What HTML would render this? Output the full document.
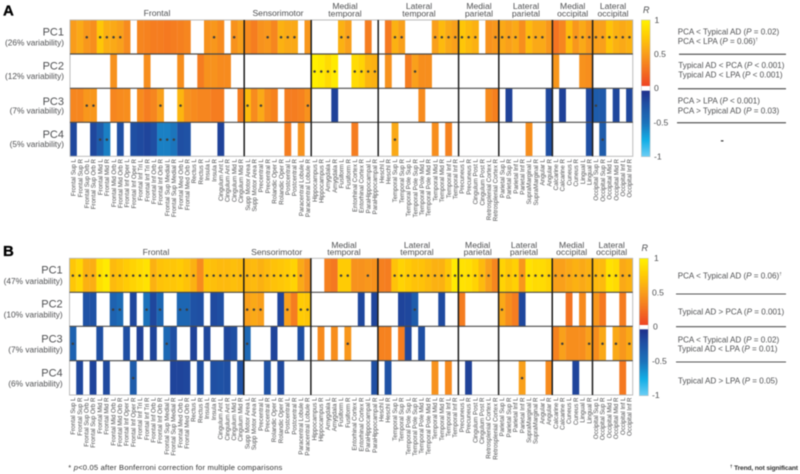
<!DOCTYPE html>
<html lang="en">
<head>
<meta charset="utf-8">
<title>PC correlation heatmaps</title>
<style>
html,body{margin:0;padding:0;background:#fff;width:800px;height:474px;overflow:hidden}
svg{display:block;filter:blur(.4px)}
text{font-family:"Liberation Sans",sans-serif;fill:#4f5052}
.g{font-size:8.6px;text-anchor:middle}
.pc{font-size:11px;text-anchor:end}
.vr{font-size:8.3px;text-anchor:end}
.tk{font-size:8.6px}
.an{font-size:8.1px}
</style>
</head>
<body>
<svg id="chart" width="800" height="474" viewBox="0 0 800 474" xmlns="http://www.w3.org/2000/svg">
<defs>
<linearGradient id="posGrad" x1="0" y1="0" x2="0" y2="1">
<stop offset="0" stop-color="#fff200"/><stop offset=".25" stop-color="#ffcb05"/><stop offset=".5" stop-color="#f9a01b"/><stop offset=".75" stop-color="#f47421"/><stop offset="1" stop-color="#ef4423"/>
</linearGradient>
<linearGradient id="negGrad" x1="0" y1="0" x2="0" y2="1">
<stop offset="0" stop-color="#1f2f8b"/><stop offset=".2" stop-color="#1f4fa3"/><stop offset=".5" stop-color="#1c75bc"/><stop offset=".75" stop-color="#12aee6"/><stop offset="1" stop-color="#6dcff6"/>
</linearGradient>
</defs>

<text x="3" y="15.5" style="font-size:15px;font-weight:bold;fill:#000;stroke:#000;stroke-width:.3">A</text>
<text x="3" y="256" style="font-size:15px;font-weight:bold;fill:#000;stroke:#000;stroke-width:.3">B</text>

<g>
<text class="g" x="157" y="16">Frontal</text>
<text class="g" x="278" y="16">Sensorimotor</text>
<text class="g" x="345" y="9">Medial</text><text class="g" x="345" y="16.5">temporal</text>
<text class="g" x="419" y="9">Lateral</text><text class="g" x="419" y="16.5">temporal</text>
<text class="g" x="479" y="9">Medial</text><text class="g" x="479" y="16.5">parietal</text>
<text class="g" x="526" y="9">Lateral</text><text class="g" x="526" y="16.5">parietal</text>
<text class="g" x="572.7" y="9">Medial</text><text class="g" x="572.7" y="16.5">occipital</text>
<text class="g" x="613" y="9">Lateral</text><text class="g" x="613" y="16.5">occipital</text>
</g>
<g>
<text class="g" x="156" y="255">Frontal</text>
<text class="g" x="276.7" y="255">Sensorimotor</text>
<text class="g" x="344" y="248">Medial</text><text class="g" x="344" y="255">temporal</text>
<text class="g" x="417" y="248">Lateral</text><text class="g" x="417" y="255">temporal</text>
<text class="g" x="477.7" y="248">Medial</text><text class="g" x="477.7" y="255">parietal</text>
<text class="g" x="524" y="248">Lateral</text><text class="g" x="524" y="255">parietal</text>
<text class="g" x="571.7" y="248">Medial</text><text class="g" x="571.7" y="255">occipital</text>
<text class="g" x="611.7" y="248">Lateral</text><text class="g" x="611.7" y="255">occipital</text>
</g>

<g>
<text class="pc" x="64" y="35.5">PC1</text><text class="vr" x="64" y="45.5">(26% variability)</text>
<text class="pc" x="64" y="69.5">PC2</text><text class="vr" x="64" y="79">(12% variability)</text>
<text class="pc" x="64" y="105">PC3</text><text class="vr" x="64" y="113.7">(7% variability)</text>
<text class="pc" x="64" y="138">PC4</text><text class="vr" x="64" y="147">(5% variability)</text>
</g>
<g>
<text class="pc" x="62.7" y="273.7">PC1</text><text class="vr" x="62.7" y="284">(47% variability)</text>
<text class="pc" x="62.7" y="307.7">PC2</text><text class="vr" x="62.7" y="317.7">(10% variability)</text>
<text class="pc" x="62.7" y="342.7">PC3</text><text class="vr" x="62.7" y="352.3">(7% variability)</text>
<text class="pc" x="62.7" y="376.3">PC4</text><text class="vr" x="62.7" y="386.3">(6% variability)</text>
</g>

<g>
<rect x="641.3" y="20" width="8.8" height="66" fill="url(#posGrad)"/>
<rect x="641.3" y="90.7" width="8.8" height="66" fill="url(#negGrad)"/>
<rect x="641.3" y="20" width="8.8" height="136.7" fill="none" stroke="#c4c4c4" stroke-width=".6"/>
<text x="643" y="13" style="font-size:9px;font-style:italic">R</text>
<text class="tk" x="654.5" y="23">1</text>
<text class="tk" x="654" y="57">0.5</text>
<text class="tk" x="654" y="91">0</text>
<text class="tk" x="653.5" y="125.5">-0.5</text>
<text class="tk" x="654" y="159.5">-1</text>
</g>
<g>
<rect x="639.3" y="258.3" width="9" height="66.7" fill="url(#posGrad)"/>
<rect x="639.3" y="329.3" width="9" height="66.4" fill="url(#negGrad)"/>
<rect x="639.3" y="258.3" width="9" height="137.4" fill="none" stroke="#c4c4c4" stroke-width=".6"/>
<text x="641.5" y="251" style="font-size:9px;font-style:italic">R</text>
<text class="tk" x="654" y="261">1</text>
<text class="tk" x="652" y="295.3">0.5</text>
<text class="tk" x="653" y="329.3">0</text>
<text class="tk" x="652" y="364">-0.5</text>
<text class="tk" x="652" y="398">-1</text>
</g>

<g>
<text class="an" x="677.7" y="34.5">PCA &lt; Typical AD (<tspan font-style="italic">P</tspan> = 0.02)</text>
<text class="an" x="677.7" y="44">PCA &lt; LPA (<tspan font-style="italic">P</tspan> = 0.06)<tspan font-size="4.5" dy="-3">†</tspan></text>
<line x1="679" x2="786" y1="54.3" y2="54.3" stroke="#333" stroke-width="1"/>
<text class="an" x="678.3" y="68">Typical AD &lt; PCA (<tspan font-style="italic">P</tspan> &lt; 0.001)</text>
<text class="an" x="678.3" y="77.7">Typical AD &lt; LPA (<tspan font-style="italic">P</tspan> &lt; 0.001)</text>
<line x1="678" x2="786" y1="88.7" y2="88.7" stroke="#333" stroke-width="1"/>
<text class="an" x="677.7" y="103.7">PCA &gt; LPA (<tspan font-style="italic">P</tspan> &lt; 0.001)</text>
<text class="an" x="677.7" y="113.3">PCA &gt; Typical AD (<tspan font-style="italic">P</tspan> = 0.03)</text>
<line x1="677" x2="786" y1="122.7" y2="122.7" stroke="#333" stroke-width="1"/>
<text class="an" x="720.5" y="143.5" style="font-size:10px;font-weight:bold;fill:#333">-</text>
</g>
<g>
<text class="an" x="677.7" y="278.7">PCA &lt; Typical AD (<tspan font-style="italic">P</tspan> = 0.06)<tspan font-size="4.5" dy="-3">†</tspan></text>
<line x1="676" x2="786" y1="294" y2="294" stroke="#555" stroke-width="1.1"/>
<text class="an" x="678" y="314.7">Typical AD &gt; PCA (<tspan font-style="italic">P</tspan> = 0.001)</text>
<line x1="676" x2="786" y1="326.7" y2="326.7" stroke="#555" stroke-width="1.1"/>
<text class="an" x="677.7" y="342.3">PCA &lt; Typical AD (<tspan font-style="italic">P</tspan> = 0.02)</text>
<text class="an" x="677.7" y="351.7">Typical AD &lt; LPA (<tspan font-style="italic">P</tspan> = 0.01)</text>
<line x1="676" x2="786" y1="362" y2="362" stroke="#555" stroke-width="1.1"/>
<text class="an" x="678" y="383.7">Typical AD &gt; LPA (<tspan font-style="italic">P</tspan> = 0.05)</text>
</g>

<text x="68.3" y="470" textLength="214" style="font-size:7.6px;fill:#333">* <tspan font-style="italic">p</tspan>&lt;0.05 after Bonferroni correction for multiple comparisons</text>
<text x="730" y="470" textLength="68" style="font-size:6.6px;font-weight:bold;fill:#333"><tspan font-size="4.5" dy="-2">†</tspan><tspan dy="2"> Trend, not significant</tspan></text>
</svg>

<script>
const regions = [
"Frontal Sup L","Frontal Sup R","Frontal Sup Orb L","Frontal Sup Orb R","Frontal Mid L","Frontal Mid R","Frontal Mid Orb L","Frontal Mid Orb R","Frontal Inf Oper L","Frontal Inf Oper R","Frontal Inf Tri L","Frontal Inf Tri R","Frontal Inf Orb L","Frontal Inf Orb R","Frontal Sup Medial L","Frontal Sup Medial R","Frontal Med Orb L","Frontal Med Orb R","Rectus L","Rectus R","Insula L","Insula R","Cingulum Ant L","Cingulum Ant R","Cingulum Mid L","Cingulum Mid R",
"Supp Motor Area L","Supp Motor Area R","Precentral L","Precentral R","Rolandic Oper L","Rolandic Oper R","Postcentral L","Postcentral R","Paracentral Lobule L","Paracentral Lobule R",
"Hippocampus L","Hippocampus R","Amygdala L","Amygdala R","Fusiform L","Fusiform R","Entorhinal Cortex L","Entorhinal Cortex R","ParaHippocampal L","ParaHippocampal R",
"Heschl L","Heschl R","Temporal Sup L","Temporal Sup R","Temporal Pole Sup L","Temporal Pole Sup R","Temporal Pole Mid L","Temporal Pole Mid R","Temporal Mid L","Temporal Mid R","Temporal Inf L","Temporal Inf R",
"Precuneus L","Precuneus R","Cingulum Post L","Cingulum Post R","Retrosplenial Cortex L","Retrosplenial Cortex R",
"Parietal Sup L","Parietal Sup R","Parietal Inf L","Parietal Inf R","SupraMarginal L","SupraMarginal R","Angular L","Angular R",
"Calcarine L","Calcarine R","Cuneus L","Cuneus R","Lingual L","Lingual R",
"Occipital Sup L","Occipital Sup R","Occipital Mid L","Occipital Mid R","Occipital Inf L","Occipital Inf R"];

const groupStarts = [26,36,46,58,64,72,78];

/* R values per region; 0 = not significant (blank) */
const panelA_PC1 = [.48,.55,.45,.4,.72,.58,.55,.5,.38,0,.35,.33,.3,.3,.28,.3,.32,.35,0,0,.42,.45,.38,0,.42,.5,
.38,.3,.42,.45,.35,.6,.55,.55,0,.45,
0,0,0,0,.6,.5,0,0,.3,0,
0,.28,.6,.5,0,0,0,0,.5,.65,.55,.5,
.72,.65,.6,0,.42,.45,
.55,.5,.55,.4,.65,.55,.55,.45,
.25,.35,.65,.45,.55,.45,
.5,.5,.7,.6,.55,.6];
const panelA_PC2 = [0,0,0,0,0,0,.42,0,0,0,0,.4,0,0,0,0,.4,0,0,.3,.42,.42,.38,.38,0,0,
0,0,0,0,0,0,0,0,0,0,
.98,.95,.85,.95,0,0,.85,.8,.62,.6,
0,.42,0,0,.3,.5,.4,.4,0,0,0,0,
0,0,0,0,0,0,
0,0,0,0,0,0,0,0,
.45,0,0,0,.42,.4,
0,0,0,0,0,0];
const panelA_PC3 = [.35,.35,.45,.45,0,0,.35,.38,.4,0,.38,.3,.35,.5,0,0,.62,.42,.38,.35,.35,.3,.3,0,0,.3,
.65,.38,.55,.38,.33,0,.3,.3,.33,.42,
0,0,0,-.12,0,0,0,0,0,0,
0,0,0,0,0,0,.38,0,0,0,0,0,
0,0,0,0,.38,.32,
0,-.12,0,0,0,0,0,-.15,
0,-.12,0,0,0,-.15,
-.3,-.28,0,-.15,0,-.15];
const panelA_PC4 = [-.15,0,0,-.15,-.3,-.55,0,-.2,0,-.2,-.17,-.14,-.2,-.55,-.55,-.5,-.2,-.22,0,0,0,0,-.12,0,0,0,
0,0,0,0,0,0,.3,0,.42,0,
0,0,0,0,0,0,.3,0,0,0,
0,0,.55,0,0,0,0,0,.4,0,.33,0,
0,0,0,0,0,0,
0,0,0,0,.4,0,0,-.2,
0,0,0,0,0,-.2,
0,-.3,0,0,0,0];

const panelB_PC1 = [.72,.82,.6,.58,.88,.95,.65,.7,.75,.8,.85,.9,.6,.7,.72,.72,.75,.7,.6,.38,.7,.68,.65,.65,.68,.65,
.62,.65,.6,.65,.7,.72,.75,.8,.55,.42,
0,0,.32,.27,.75,.75,.42,.42,.45,.42,
.32,.3,.7,.8,.75,.7,.7,.65,.6,.6,.72,.95,
.9,.88,.8,.65,.5,.35,
.8,.72,.78,.45,.9,.85,.85,.8,
.5,.5,.55,.6,.55,.6,
.65,.65,.9,.85,.55,.6];
const panelB_PC2 = [0,0,-.22,-.22,0,0,-.35,-.42,0,-.15,0,-.48,-.15,-.38,0,0,-.38,-.38,-.22,-.2,0,-.17,-.2,0,0,0,
.5,.55,.5,0,0,-.14,.5,.3,.75,.72,
0,0,0,0,0,0,0,-.15,0,-.13,
0,0,0,-.13,-.15,-.3,0,0,0,-.17,0,0,
.3,0,0,0,0,0,
.55,.4,.3,-.15,0,0,0,0,
0,0,.25,0,.38,0,
.45,.28,0,0,.3,0];
const panelB_PC3 = [-.35,0,0,0,-.2,0,0,0,-.2,0,-.12,0,-.13,0,-.4,-.2,0,0,-.12,0,-.15,0,0,-.15,-.2,0,
-.4,0,0,0,-.13,0,0,0,-.2,0,
0,.38,0,.4,0,.45,0,0,0,0,
.33,.33,0,.3,-.15,0,-.2,0,0,0,0,0,
0,0,0,0,0,0,
0,0,0,0,0,0,0,0,
.33,.5,.4,.4,.4,.5,
.4,.55,0,.55,.45,.55];
const panelB_PC4 = [0,-.15,0,-.13,0,-.17,0,0,0,-.3,0,0,0,0,0,-.13,-.13,-.15,0,-.2,0,-.2,-.22,-.2,0,-.22,
0,0,0,-.22,0,-.17,0,0,0,0,
0,0,0,0,0,0,0,0,0,-.2,
0,-.22,0,0,0,0,0,0,.42,0,.38,0,
0,-.12,0,0,0,0,
0,0,0,.5,0,0,0,.38,
0,0,0,-.13,0,0,
0,0,0,0,.28,0];

/* region indices with a significance star, per row */
const starsA_PC1 = [2,4,5,6,7,21,24,29,31,32,33,40,41,48,49,54,55,56,57,58,59,60,63,64,65,66,68,69,70,74,75,76,77,78,79,80,81,82,83];
const starsA_PC2 = [36,37,38,39,42,43,44,45,51];
const starsA_PC3 = [2,3,13,16,26,28,35,78];
const starsA_PC4 = [4,5,13,14,15,48,79];
const starsB_PC1 = [0,1,2,3,4,5,6,7,8,9,10,11,12,13,14,15,16,17,18,20,21,22,23,24,25,26,27,28,29,30,31,32,33,34,40,41,44,48,49,50,51,52,53,54,55,56,57,58,59,60,61,62,64,65,66,67,68,69,70,71,72,73,74,75,76,77,78,79,80,81,82,83];
const starsB_PC2 = [6,7,11,13,16,17,26,27,28,32,34,35,51,64];
const starsB_PC3 = [0,14,26,41,73,77,79,81,83];
const starsB_PC4 = [9,67];

const svgNS = "http://www.w3.org/2000/svg";
const root = document.getElementById("chart");

function mix(a,b,t){
  const pa=parseInt(a.slice(1),16), pb=parseInt(b.slice(1),16);
  const ch=s=>Math.round(((pa>>s)&255)*(1-t)+((pb>>s)&255)*t);
  return "rgb("+ch(16)+","+ch(8)+","+ch(0)+")";
}
function ramp(stops,v){
  for(let i=1;i<stops.length;i++){
    if(v<=stops[i][0]){
      const t=(v-stops[i-1][0])/(stops[i][0]-stops[i-1][0]);
      return mix(stops[i-1][1],stops[i][1],t);
    }
  }
  return stops[stops.length-1][1];
}
function colorScale(v){
  if(v>0) return ramp([[0,"#ef4423"],[.25,"#f47421"],[.5,"#f9a01b"],[.75,"#ffcb05"],[1,"#fff200"]],v);
  return ramp([[0,"#1f2f8b"],[.2,"#1f4fa3"],[.5,"#1c75bc"],[.75,"#12aee6"],[1,"#6dcff6"]],-v);
}
function mk(tag,parent,attrs){
  const e=document.createElementNS(svgNS,tag);
  for(const k in attrs) e.setAttribute(k,attrs[k]);
  parent.appendChild(e);
  return e;
}

function drawPanel(prefix,rows,stars,x0,x1,ys,labelTop){
  const xScale=i=>x0+(x1-x0)*i/regions.length;
  const bandW=(x1-x0)/regions.length;
  const yScale=r=>ys[r];
  const panel=mk("g",root,{});
  
  
  rows.forEach((vals,r)=>{
    vals.forEach((v,i)=>{
      if(!v) return;
      const c=mk("rect",panel,{x:xScale(i),y:yScale(r),width:bandW+.15,height:yScale(r+1)-yScale(r),fill:colorScale(v)});
      
      
    });
  });
  const frame=mk("rect",panel,{x:x0,y:ys[0],width:x1-x0,height:ys[4]-ys[0],fill:"none",stroke:"#b5b5b5","stroke-width":.9});
  
  
  for(let r=1;r<4;r++){
    const l=mk("line",panel,{x1:x0,x2:x1,y1:yScale(r),y2:yScale(r),stroke:"#4a4a4a","stroke-width":1.2});
    
    
  }
  groupStarts.forEach(g=>{
    const l=mk("line",panel,{x1:xScale(g),x2:xScale(g),y1:ys[0],y2:ys[4],stroke:"#1c1c1c","stroke-width":1.5});
    
    
  });
  stars.forEach((list,r)=>{
    list.forEach(i=>{
      const s=mk("circle",panel,{cx:xScale(i)+bandW/2,cy:(yScale(r)+yScale(r+1))/2+.3,r:1.25,fill:"#3d3d3d"});
      
      
    });
  });
  regions.forEach((name,i)=>{
    const cx=xScale(i)+bandW/2;
    const t=mk("text",panel,{transform:"translate("+(cx+2.2)+","+labelTop+") rotate(-90)","text-anchor":"end",style:"font-size:6.2px"});
    t.textContent=name;
    
    
  });
}

drawPanel("panel-a",[panelA_PC1,panelA_PC2,panelA_PC3,panelA_PC4],[starsA_PC1,starsA_PC2,starsA_PC3,starsA_PC4],70,632.8,[20,54,88.3,122.3,156.3],159);
drawPanel("panel-b",[panelB_PC1,panelB_PC2,panelB_PC3,panelB_PC4],[starsB_PC1,starsB_PC2,starsB_PC3,starsB_PC4],69.5,632.7,[258.3,292.3,326.3,360.7,395],397.5);
</script>
</body>
</html>
